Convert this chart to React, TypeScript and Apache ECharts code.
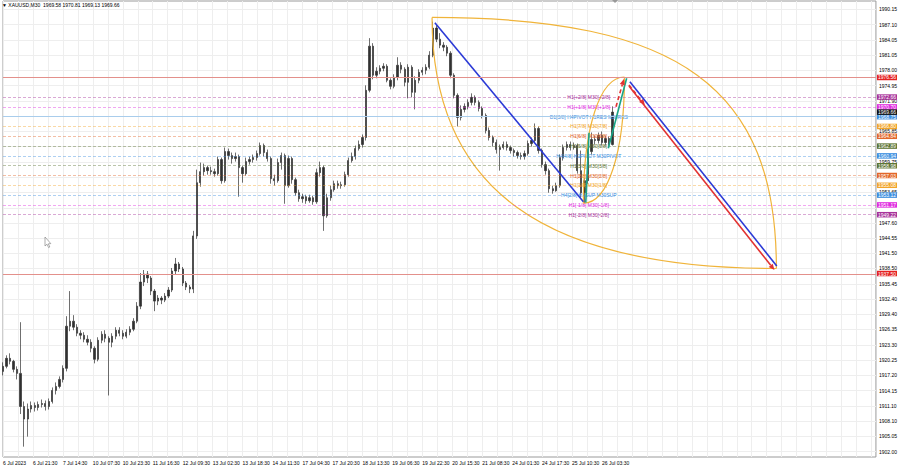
import React, { useEffect, useRef } from 'react';
import * as echarts from 'echarts';

const TITLE = '\u25BC XAUUSD,M30  1969.58 1970.81 1969.13 1969.66';

const dateLabels = [
  '6 Jul 2023', '6 Jul 21:30', '7 Jul 14:30', '10 Jul 07:30', '10 Jul 23:30', '11 Jul 16:30',
  '12 Jul 09:30', '13 Jul 02:30', '13 Jul 18:30', '14 Jul 11:30', '17 Jul 04:30', '17 Jul 20:30',
  '18 Jul 13:30', '19 Jul 06:30', '19 Jul 22:30', '20 Jul 15:30', '21 Jul 08:30', '24 Jul 01:30',
  '24 Jul 17:30', '25 Jul 10:30', '26 Jul 03:30',
];
const BARS_PER_LABEL = 34;
const BARS_PER_GRID = 17;
const TOTAL_BARS = 991;

const priceTicks = [
  1902.0, 1905.05, 1908.1, 1911.1, 1914.15, 1917.2, 1920.25, 1923.3, 1926.35, 1929.4,
  1932.4, 1935.45, 1938.5, 1941.5, 1944.55, 1947.6, 1950.6, 1953.65, 1956.7, 1959.75,
  1962.8, 1965.85, 1968.9, 1971.9, 1974.95, 1978.0, 1981.05, 1984.05, 1987.1, 1990.15,
];
// tick labels hidden behind the level boxes in the reference
const hiddenPriceLabels = [1950.6, 1956.7, 1962.8, 1968.9];

const BARS_PER_CANDLE = 4;
// [open, close, low, high]
const candles: number[][] = [
  [1918.0, 1919.0, 1917.2, 1919.8], [1919.0, 1920.6, 1918.6, 1921.2], [1920.6, 1920.0, 1919.4, 1921.6],
  [1920.0, 1918.4, 1917.8, 1920.3], [1918.4, 1917.6, 1916.4, 1919.0], [1917.6, 1911.0, 1909.5, 1927.8],
  [1911.0, 1908.5, 1903.0, 1912.0], [1908.5, 1910.5, 1905.0, 1911.6], [1910.5, 1911.2, 1909.8, 1912.0],
  [1911.2, 1910.8, 1910.0, 1911.8], [1910.8, 1911.4, 1910.2, 1912.0], [1911.4, 1911.6, 1910.8, 1912.4],
  [1911.6, 1911.0, 1910.2, 1912.2], [1911.0, 1912.0, 1910.4, 1912.6], [1912.0, 1914.2, 1911.6, 1914.8],
  [1914.2, 1915.0, 1913.4, 1915.8], [1915.0, 1916.4, 1914.6, 1917.0], [1916.4, 1918.6, 1915.8, 1919.2],
  [1918.6, 1927.0, 1918.0, 1929.0], [1927.0, 1928.0, 1926.0, 1934.0], [1928.0, 1926.8, 1926.2, 1929.2],
  [1926.8, 1925.6, 1925.0, 1927.4], [1925.6, 1925.2, 1924.4, 1926.2], [1925.2, 1924.4, 1923.8, 1925.8],
  [1924.4, 1923.8, 1923.2, 1925.2], [1923.8, 1922.6, 1921.8, 1924.4], [1922.6, 1920.4, 1919.6, 1923.0],
  [1920.4, 1924.2, 1920.0, 1924.8], [1924.2, 1925.4, 1923.6, 1926.0], [1925.4, 1924.6, 1923.8, 1926.2],
  [1924.6, 1923.8, 1913.2, 1925.0], [1923.8, 1925.0, 1922.8, 1925.6], [1925.0, 1926.2, 1924.4, 1926.8],
  [1926.2, 1925.6, 1925.0, 1926.8], [1925.6, 1925.0, 1924.4, 1926.2], [1925.0, 1925.8, 1924.6, 1926.4],
  [1925.8, 1926.4, 1925.2, 1927.0], [1926.4, 1928.0, 1926.0, 1928.6], [1928.0, 1931.0, 1927.6, 1931.8],
  [1931.0, 1935.8, 1930.4, 1937.6], [1935.8, 1937.4, 1935.0, 1938.2], [1937.4, 1936.6, 1935.6, 1938.0],
  [1936.6, 1934.0, 1933.2, 1937.0], [1934.0, 1932.0, 1930.0, 1934.4], [1932.0, 1932.6, 1931.2, 1933.2],
  [1932.6, 1932.2, 1931.4, 1933.0], [1932.2, 1933.0, 1931.8, 1933.6], [1933.0, 1934.2, 1932.6, 1934.8],
  [1934.2, 1938.0, 1933.8, 1938.6], [1938.0, 1939.4, 1937.4, 1940.6], [1939.4, 1938.4, 1937.8, 1939.8],
  [1938.4, 1935.6, 1935.0, 1938.8], [1935.6, 1934.8, 1934.2, 1936.0], [1934.8, 1934.4, 1933.6, 1935.2],
  [1934.4, 1945.0, 1933.6, 1946.0], [1945.0, 1955.6, 1944.4, 1958.2], [1955.6, 1957.8, 1954.8, 1959.6],
  [1957.8, 1958.6, 1957.0, 1959.4], [1958.6, 1958.0, 1957.2, 1959.0], [1958.0, 1957.8, 1957.2, 1958.8],
  [1957.8, 1957.4, 1956.8, 1958.4], [1957.4, 1960.2, 1957.0, 1960.8], [1960.2, 1956.0, 1955.4, 1960.6],
  [1956.0, 1961.8, 1955.6, 1962.6], [1961.8, 1961.0, 1960.2, 1962.4], [1961.0, 1960.4, 1959.4, 1961.6],
  [1960.4, 1960.8, 1959.8, 1961.6], [1960.8, 1958.6, 1952.8, 1961.2], [1958.6, 1957.4, 1955.6, 1959.0],
  [1957.4, 1959.8, 1957.0, 1960.6], [1959.8, 1960.2, 1959.2, 1960.8], [1960.2, 1960.6, 1959.6, 1961.2],
  [1960.6, 1961.4, 1960.0, 1962.0], [1961.4, 1963.0, 1961.0, 1963.6], [1963.0, 1961.6, 1960.8, 1963.4],
  [1961.6, 1960.4, 1959.8, 1962.2], [1960.4, 1956.4, 1955.4, 1960.8], [1956.4, 1956.0, 1955.0, 1957.2],
  [1956.0, 1959.6, 1955.6, 1960.4], [1959.6, 1961.0, 1958.2, 1961.6], [1961.0, 1955.0, 1951.4, 1961.4],
  [1955.0, 1960.4, 1954.6, 1961.0], [1960.4, 1956.2, 1955.4, 1960.8], [1956.2, 1953.6, 1953.0, 1956.6],
  [1953.6, 1952.4, 1951.8, 1954.2], [1952.4, 1952.8, 1951.6, 1953.4], [1952.8, 1952.0, 1951.4, 1953.2],
  [1952.0, 1952.6, 1951.6, 1953.2], [1952.6, 1951.8, 1951.2, 1953.0], [1951.8, 1957.6, 1951.4, 1958.4],
  [1957.6, 1958.6, 1956.8, 1959.8], [1958.6, 1949.0, 1946.0, 1959.0], [1949.0, 1952.6, 1948.6, 1953.4],
  [1952.6, 1954.2, 1952.0, 1955.0], [1954.2, 1955.4, 1953.8, 1956.0], [1955.4, 1955.0, 1954.4, 1956.0],
  [1955.0, 1955.2, 1954.4, 1955.8], [1955.2, 1957.2, 1954.8, 1957.8], [1957.2, 1960.0, 1956.8, 1960.6],
  [1960.0, 1960.8, 1959.6, 1961.6], [1960.8, 1962.4, 1960.2, 1963.0], [1962.4, 1963.2, 1962.0, 1964.0],
  [1963.2, 1964.6, 1962.6, 1965.2], [1964.6, 1974.0, 1964.0, 1975.0], [1974.0, 1982.8, 1973.6, 1984.4],
  [1982.8, 1977.0, 1976.2, 1983.4], [1977.0, 1977.8, 1976.4, 1978.6], [1977.8, 1978.4, 1977.2, 1979.0],
  [1978.4, 1978.8, 1977.8, 1979.4], [1978.8, 1976.0, 1975.6, 1979.2], [1976.0, 1974.8, 1974.2, 1976.4],
  [1974.8, 1976.6, 1974.4, 1977.2], [1976.6, 1979.0, 1976.0, 1980.6], [1979.0, 1978.2, 1977.4, 1979.6],
  [1978.2, 1975.6, 1974.8, 1978.6], [1975.6, 1978.6, 1972.4, 1979.2], [1978.6, 1973.6, 1972.6, 1979.0],
  [1973.6, 1976.0, 1970.2, 1976.8], [1976.0, 1977.6, 1975.4, 1978.2], [1977.6, 1978.0, 1977.0, 1978.6],
  [1978.0, 1978.6, 1977.2, 1979.2], [1978.6, 1981.0, 1978.2, 1981.8], [1981.0, 1986.4, 1980.6, 1987.7],
  [1986.4, 1984.2, 1983.6, 1987.0], [1984.2, 1983.0, 1982.4, 1985.4], [1983.0, 1982.6, 1981.8, 1983.6],
  [1982.6, 1981.4, 1980.8, 1983.0], [1981.4, 1977.0, 1976.4, 1981.8], [1977.0, 1973.0, 1972.4, 1977.4],
  [1973.0, 1968.6, 1966.8, 1973.4], [1968.6, 1970.2, 1968.0, 1971.0], [1970.2, 1970.8, 1969.6, 1971.4],
  [1970.8, 1971.6, 1970.2, 1972.2], [1971.6, 1972.6, 1971.0, 1973.4], [1972.6, 1971.6, 1971.0, 1973.0],
  [1971.6, 1970.4, 1969.8, 1972.0], [1970.4, 1969.0, 1968.4, 1970.8], [1969.0, 1966.0, 1965.4, 1969.4],
  [1966.0, 1964.6, 1964.0, 1966.6], [1964.6, 1963.6, 1962.8, 1965.0], [1963.6, 1962.2, 1961.4, 1964.2],
  [1962.2, 1962.6, 1958.0, 1963.2], [1962.6, 1963.2, 1962.2, 1963.8], [1963.2, 1962.6, 1962.0, 1963.8],
  [1962.6, 1962.0, 1961.4, 1963.0], [1962.0, 1961.6, 1960.8, 1962.4], [1961.6, 1961.0, 1960.4, 1962.0],
  [1961.0, 1960.8, 1960.2, 1961.6], [1960.8, 1961.4, 1960.2, 1962.0], [1961.4, 1963.4, 1961.0, 1964.0],
  [1963.4, 1964.0, 1962.8, 1964.6], [1964.0, 1966.4, 1963.6, 1967.4], [1966.4, 1962.0, 1961.4, 1966.8],
  [1962.0, 1959.2, 1958.6, 1962.4], [1959.2, 1958.0, 1957.2, 1959.8], [1958.0, 1954.4, 1953.6, 1958.4],
  [1954.4, 1954.0, 1953.4, 1955.0], [1954.0, 1955.0, 1953.8, 1955.6], [1955.0, 1960.6, 1954.6, 1961.2],
  [1960.6, 1962.6, 1960.0, 1963.2], [1962.6, 1963.2, 1962.0, 1963.8], [1963.2, 1962.6, 1962.0, 1963.8],
  [1962.6, 1963.0, 1962.2, 1963.6], [1963.0, 1958.0, 1957.4, 1963.4], [1958.0, 1953.6, 1952.6, 1962.0],
  [1953.6, 1956.0, 1951.5, 1956.6], [1956.0, 1961.8, 1955.4, 1962.4], [1961.8, 1964.2, 1961.2, 1965.6],
  [1964.2, 1964.0, 1963.2, 1965.0], [1964.0, 1965.0, 1963.4, 1965.6], [1965.0, 1963.6, 1963.0, 1965.8],
  [1963.6, 1964.4, 1963.0, 1965.0], [1964.4, 1963.2, 1962.6, 1964.8], [1963.2, 1969.66, 1963.0, 1970.81],
];

const levelPrices = [1972.66, 1970.70, 1968.75, 1966.80, 1964.84, 1962.89, 1960.94, 1958.98, 1957.03, 1955.08, 1953.12, 1951.17, 1949.22];
const levelNames = [
  'H1[+2/8] M30[+2/8]', 'H1[+1/8] M30[+1/8]', 'D1[3/8] H4PIVOT H1RES M30RES', 'H1[7/8] M30[7/8]',
  'H1[6/8] M30[6/8]', 'H1[5/8] M30[5/8]', 'H4[4/8] H1PIVOT M30PIVOT', 'H1[3/8] M30[3/8]',
  'H1[2/8] M30[2/8]', 'H1[1/8] M30[1/8]', 'H4[2/8] H1SUP M30SUP', 'H1[-1/8] M30[-1/8]', 'H1[-2/8] M30[-2/8]',
];
const levelColors = [
  '#a8339a', '#e02ee0', '#3d8fe0', '#f2a52a', '#e2672a', '#5d7535', '#3d8fe0',
  '#5d7535', '#e2672a', '#f2a52a', '#3d8fe0', '#e02ee0', '#a8339a',
];
const LEVEL_TEXT_BAR = 665;

const redLevels = [1976.56, 1937.5];
const bidPrice = 1969.66;

// arcs: [fromBar, fromPrice, toBar, toPrice, bend(0 = horizontal first, 1 = vertical first), k]
const arcs = [
  [487.1, 1988.52, 878.0, 1938.5, 0, 0.72],
  [487.1, 1988.52, 878.0, 1938.5, 1, 0.68],
  [658.9, 1951.5, 705.5, 1976.66, 1, 0.6],
  [658.9, 1951.5, 705.5, 1976.66, 0, 0.6],
];

// trend lines: [fromBar, fromPrice, toBar, toPrice, styleIndex]
const trendLines = [
  [490.3, 1987.48, 658.9, 1951.82, 0],
  [661.6, 1951.62, 665.3, 1965.56, 1],
  [687.2, 1962.45, 708.0, 1976.4, 1],
  [695.9, 1970.74, 704.9, 1976.26, 2],
  [710.6, 1975.07, 728.7, 1971.08, 2],
  [711.7, 1975.72, 878.4, 1939.0, 0],
  [710.6, 1974.87, 875.8, 1938.2, 3],
];
const lineStyles = [
  { color: '#2b3ad6', width: 1.6, dash: null as number[] | null, arrow: false },
  { color: '#19a487', width: 1.6, dash: null as number[] | null, arrow: false },
  { color: '#e23232', width: 1.6, dash: [4, 3], arrow: true },
  { color: '#e23232', width: 1.6, dash: null as number[] | null, arrow: true },
];

const FONT = 'Liberation Sans, Arial, sans-serif';

function fade(hex: string, alpha: number) {
  const r = parseInt(hex.slice(1, 3), 16);
  const g = parseInt(hex.slice(3, 5), 16);
  const b = parseInt(hex.slice(5, 7), 16);
  return `rgba(${r},${g},${b},${alpha})`;
}

export default function App() {
  const ref = useRef<HTMLDivElement>(null);
  useEffect(() => {
    const chart = echarts.init(ref.current!, null, { renderer: 'svg' });

    const candleData = candles.map((c, i) => [i * BARS_PER_CANDLE, c[0], c[1], c[2], c[3]]);
    const labelBars = dateLabels.map((_, i) => i * BARS_PER_LABEL);
    const gridBars: number[] = [];
    for (let b = 0; b <= TOTAL_BARS; b += BARS_PER_GRID) gridBars.push(b);
    const priceLabels = priceTicks.filter((v) => hiddenPriceLabels.indexOf(v) < 0);

    const boxLabel = (v: number, bg: string) => ({
      show: true,
      position: 'end',
      distance: 1,
      formatter: v.toFixed(2),
      backgroundColor: bg,
      color: '#fff',
      fontSize: 5,
      lineHeight: 5,
      fontFamily: FONT,
      padding: [0.5, 1, 0, 1],
    });

    const markData: any[] = [];
    levelPrices.forEach((v, i) => {
      const solid = i === 2;
      markData.push({
        yAxis: v,
        lineStyle: solid
          ? { color: '#a9cdec', type: 'solid', width: 1, opacity: 1 }
          : { color: fade(levelColors[i], 0.42), type: [3, 2], width: 1, opacity: 1 },
        label: boxLabel(v, levelColors[i]),
      });
    });

    // price boxes without a level line of their own
    const tagData = [
      ...redLevels.map((p) => ({ value: [TOTAL_BARS, p], bg: '#e52222' })),
      { value: [TOTAL_BARS, bidPrice], bg: '#111111' },
    ];

    const option: any = {
      animation: false,
      backgroundColor: '#ffffff',
      grid: { left: 1, right: 23, top: 1, bottom: 11, show: true, borderColor: '#9a9a9a', borderWidth: 1, backgroundColor: '#ffffff' },
      xAxis: {
        type: 'value',
        min: 0,
        max: TOTAL_BARS,
        axisLine: { show: false },
        axisTick: { show: false, customValues: gridBars },
        axisLabel: {
          customValues: labelBars,
          formatter: (v: number) => dateLabels[Math.round(v / BARS_PER_LABEL)] || '',
          fontSize: 5,
          fontFamily: FONT,
          color: '#000',
          align: 'left',
          margin: 3,
        },
        splitLine: { show: true, lineStyle: { color: '#eeeeee', width: 1 } },
      },
      yAxis: {
        type: 'value',
        position: 'right',
        min: 1900.94,
        max: 1991.8,
        axisLine: { show: false },
        axisTick: { show: false, customValues: priceTicks },
        axisLabel: {
          customValues: priceLabels,
          formatter: (v: number) => v.toFixed(2),
          fontSize: 5,
          fontFamily: FONT,
          color: '#000',
          margin: 3,
        },
        splitLine: { show: true, lineStyle: { color: '#eeeeee', width: 1 } },
      },
      graphic: [
        { type: 'text', left: 2, top: 2, style: { text: TITLE, fontSize: 5, fontFamily: FONT, fill: '#000' }, z: 100 },
        {
          type: 'polygon',
          shape: { points: [[45, 237], [45, 246], [47, 244.2], [48.6, 247.6], [49.8, 247], [48.3, 243.8], [50.8, 243.6]] },
          style: { fill: '#ffffff', stroke: '#777', lineWidth: 0.6 },
          z: 100,
        },
        { type: 'polygon', shape: { points: [[612, 0], [618, 0], [615, 3]] }, style: { fill: '#999' }, z: 100 },
      ],
      series: [
        {
          type: 'candlestick',
          data: candleData,
          barWidth: 1.8,
          z: 2,
          itemStyle: { color: '#303030', color0: '#303030', borderColor: '#303030', borderColor0: '#303030', borderWidth: 0.7 },
          markLine: { silent: true, symbol: ['none', 'none'], animation: false, data: markData },
        },
        {
          type: 'custom',
          silent: true,
          z: 6,
          data: redLevels.map((p) => [0, p]),
          renderItem: (params: any, api: any) => {
            const cs = params.coordSys;
            const y = Math.round(api.coord([0, api.value(1)])[1]) + 0.5;
            return {
              type: 'line',
              shape: { x1: cs.x, y1: y, x2: cs.x + cs.width, y2: y },
              style: { stroke: '#e3908b', lineWidth: 1, fill: 'none' },
            };
          },
        },
        {
          type: 'custom',
          silent: true,
          z: 7,
          clip: false,
          data: tagData,
          renderItem: (params: any, api: any) => {
            const pt = api.coord([api.value(0), api.value(1)]);
            const item = tagData[params.dataIndex];
            return {
              type: 'text',
              x: pt[0] + 1,
              y: pt[1],
              style: {
                text: api.value(1).toFixed(2),
                fill: '#ffffff',
                fontSize: 5,
                lineHeight: 5,
                fontFamily: FONT,
                backgroundColor: item.bg,
                padding: [0.5, 1, 0, 1],
                align: 'left',
                textAlign: 'left',
                verticalAlign: 'middle',
                textVerticalAlign: 'middle',
              },
            };
          },
        },
        {
          type: 'custom',
          silent: true,
          z: 3,
          data: levelPrices.map((p, i) => [LEVEL_TEXT_BAR, p, i]),
          renderItem: (params: any, api: any) => {
            const pt = api.coord([api.value(0), api.value(1)]);
            const i = api.value(2);
            return {
              type: 'text',
              x: pt[0],
              y: pt[1],
              style: {
                text: levelNames[i],
                fill: levelColors[i],
                fontSize: 5,
                fontFamily: FONT,
                align: 'center',
                textAlign: 'center',
                verticalAlign: 'middle',
                textVerticalAlign: 'middle',
              },
            };
          },
        },
        {
          type: 'custom',
          silent: true,
          z: 4,
          data: arcs,
          renderItem: (params: any, api: any) => {
            const a = api.coord([api.value(0), api.value(1)]);
            const b = api.coord([api.value(2), api.value(3)]);
            const vertical = api.value(4) === 1;
            const k = api.value(5);
            let c1, c2;
            if (vertical) {
              c1 = [a[0], a[1] + (b[1] - a[1]) * k];
              c2 = [b[0] - (b[0] - a[0]) * k, b[1]];
            } else {
              c1 = [a[0] + (b[0] - a[0]) * k, a[1]];
              c2 = [b[0], b[1] - (b[1] - a[1]) * k];
            }
            return {
              type: 'bezierCurve',
              shape: { x1: a[0], y1: a[1], x2: b[0], y2: b[1], cpx1: c1[0], cpy1: c1[1], cpx2: c2[0], cpy2: c2[1] },
              style: { stroke: '#f0b43a', lineWidth: 1.2, fill: 'none' },
            };
          },
        },
        {
          type: 'custom',
          silent: true,
          z: 5,
          data: trendLines,
          renderItem: (params: any, api: any) => {
            const a = api.coord([api.value(0), api.value(1)]);
            const b = api.coord([api.value(2), api.value(3)]);
            const s = lineStyles[api.value(4)];
            const children: any[] = [];
            let end = b;
            if (s.arrow) {
              const dx = b[0] - a[0];
              const dy = b[1] - a[1];
              const len = Math.sqrt(dx * dx + dy * dy) || 1;
              const ux = dx / len, uy = dy / len;
              const L = 6, W = 2.6;
              const bx = b[0] - ux * L, by = b[1] - uy * L;
              end = [bx, by];
              children.push({
                type: 'polygon',
                shape: { points: [[b[0], b[1]], [bx - uy * W, by + ux * W], [bx + uy * W, by - ux * W]] },
                style: { fill: s.color },
              });
            }
            children.unshift({
              type: 'line',
              shape: { x1: a[0], y1: a[1], x2: end[0], y2: end[1] },
              style: { stroke: s.color, lineWidth: s.width, lineDash: s.dash || undefined, fill: 'none' },
            });
            return { type: 'group', children };
          },
        },
      ],
    };
    chart.setOption(option);
    return () => chart.dispose();
  }, []);
  return (
    <div
      ref={ref}
      style={{ position: 'fixed', left: 0, top: 0, width: 900, height: 468, background: '#fff' }}
    />
  );
}
